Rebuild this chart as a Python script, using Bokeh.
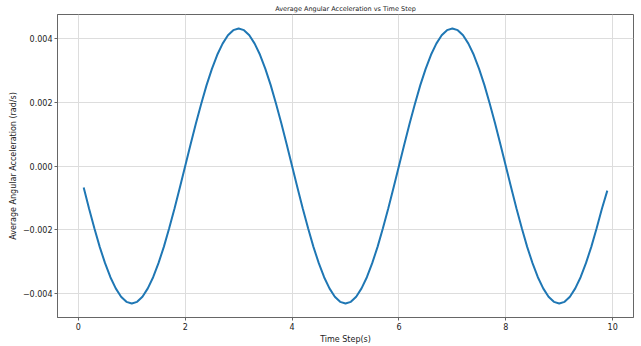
from bokeh.plotting import figure
from bokeh.embed import file_html
from bokeh.resources import INLINE
from bokeh.models import Range1d, FixedTicker, CustomJSTickFormatter

time_step = [round(0.1 * i, 1) for i in range(1, 100)]
avg_ang_acc = [
    -0.00067, -0.00133, -0.00195, -0.00253, -0.00304, -0.00348, -0.00383, -0.00409, -0.00425, -0.00430,
    -0.00425, -0.00409, -0.00383, -0.00348, -0.00304, -0.00253, -0.00195, -0.00133, -0.00067, 0.00000,
    0.00067, 0.00133, 0.00195, 0.00253, 0.00304, 0.00348, 0.00383, 0.00409, 0.00425, 0.00430,
    0.00425, 0.00409, 0.00383, 0.00348, 0.00304, 0.00253, 0.00195, 0.00133, 0.00067, 0.00000,
    -0.00067, -0.00133, -0.00195, -0.00253, -0.00304, -0.00348, -0.00383, -0.00409, -0.00425, -0.00430,
    -0.00425, -0.00409, -0.00383, -0.00348, -0.00304, -0.00253, -0.00195, -0.00133, -0.00067, 0.00000,
    0.00067, 0.00133, 0.00195, 0.00253, 0.00304, 0.00348, 0.00383, 0.00409, 0.00425, 0.00430,
    0.00425, 0.00409, 0.00383, 0.00348, 0.00304, 0.00253, 0.00195, 0.00133, 0.00067, 0.00000,
    -0.00067, -0.00133, -0.00195, -0.00253, -0.00304, -0.00348, -0.00383, -0.00409, -0.00425, -0.00430,
    -0.00425, -0.00409, -0.00383, -0.00348, -0.00304, -0.00253, -0.00195, -0.00133, -0.00077,
]
x_ticks = [0, 2, 4, 6, 8, 10]
y_ticks = [-0.004, -0.002, 0.0, 0.002, 0.004]

FONT = "DejaVu Sans"

p = figure(width=641, height=346, output_backend="svg", toolbar_location=None,
           title="Average Angular Acceleration vs Time Step",
           x_range=Range1d(-0.39, 10.39), y_range=Range1d(-0.00474, 0.00474),
           min_border_left=57, min_border_right=8, min_border_top=14, min_border_bottom=26)

p.title.text_font = FONT
p.title.text_font_size = "6.5px"
p.title.text_font_style = "normal"
p.title.text_color = "#222222"
p.title.align = "center"
p.title.offset = 0
p.title.standoff = 3

p.line(time_step, avg_ang_acc, line_color="#1f77b4", line_width=2)

p.xaxis.ticker = FixedTicker(ticks=x_ticks)
p.yaxis.ticker = FixedTicker(ticks=y_ticks)
p.yaxis.formatter = CustomJSTickFormatter(code="return (tick < 0 ? '\u2212' : '') + Math.abs(tick).toFixed(3);")
p.xaxis.axis_label = "Time Step(s)"
p.yaxis.axis_label = "Average Angular Acceleration (rad/s)"

for ax in (p.xaxis, p.yaxis):
    ax.major_label_text_font = FONT
    ax.major_label_text_font_size = "8px"
    ax.major_label_text_color = "#222222"
    ax.axis_label_text_font = FONT
    ax.axis_label_text_font_size = "8px"
    ax.axis_label_text_font_style = "normal"
    ax.axis_label_text_color = "#222222"
    ax.axis_line_color = "#666666"
    ax.major_tick_line_color = "#666666"
    ax.major_tick_out = 3
    ax.major_tick_in = 0
    ax.minor_tick_line_color = None
    ax.major_label_standoff = 2
    ax.axis_label_standoff = 2

p.outline_line_color = "#666666"
p.grid.grid_line_color = "#dddddd"
p.grid.grid_line_width = 1
p.background_fill_color = "white"
p.border_fill_color = "white"

open("out.html", "w").write(file_html(p, INLINE))
